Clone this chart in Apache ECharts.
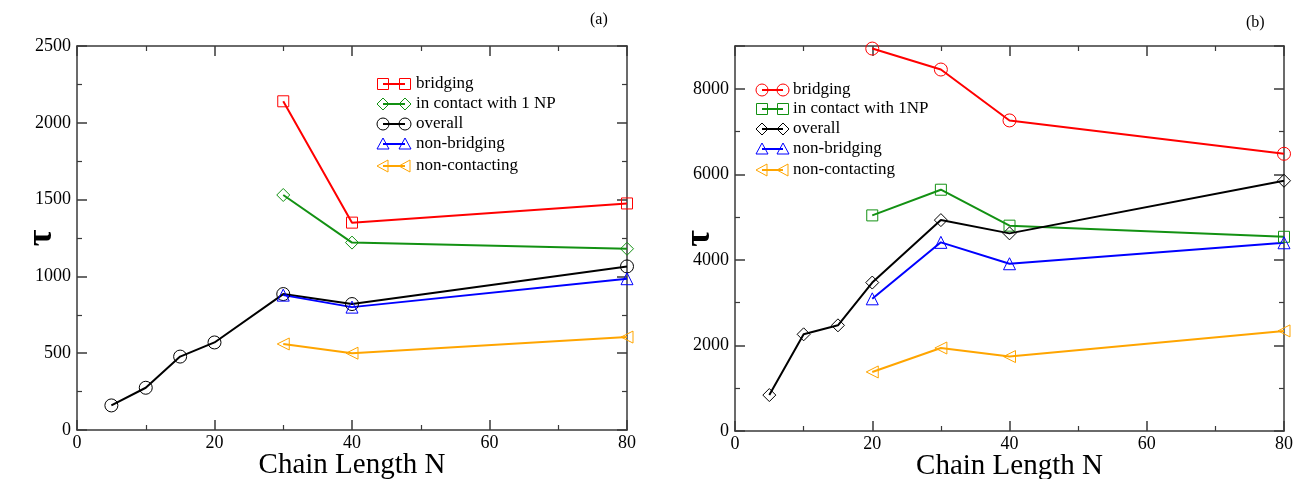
<!DOCTYPE html>
<html>
<head>
<meta charset="utf-8">
<script src="https://cdn.jsdelivr.net/npm/echarts@6/dist/echarts.min.js"></script>
<style>
  html, body { margin: 0; padding: 0; background: #fff; }
  #chart { width: 1294px; height: 479px; }
</style>
</head>
<body>
<div id="chart"></div>
<script>
// ---- Panel (a) ----
const nBridgingA = [30, 40, 80];
const tauBridgingA = [2140, 1350, 1475];
const nContactA = [30, 40, 80];
const tauContactA = [1530, 1220, 1180];
const nOverallA = [5, 10, 15, 20, 30, 40, 80];
const tauOverallA = [160, 275, 478, 570, 885, 820, 1065];
const nNonBridgingA = [30, 40, 80];
const tauNonBridgingA = [878, 800, 985];
const nNonContactA = [30, 40, 80];
const tauNonContactA = [560, 500, 605];

// ---- Panel (b) ----
const nBridgingB = [20, 30, 40, 80];
const tauBridgingB = [8940, 8450, 7260, 6480];
const nContactB = [20, 30, 40, 80];
const tauContactB = [5040, 5640, 4800, 4540];
const nOverallB = [5, 10, 15, 20, 30, 40, 80];
const tauOverallB = [840, 2260, 2470, 3470, 4930, 4620, 5850];
const nNonBridgingB = [20, 30, 40, 80];
const tauNonBridgingB = [3090, 4410, 3910, 4400];
const nNonContactB = [20, 30, 40, 80];
const tauNonContactB = [1380, 1940, 1740, 2340];

// ---- Axis ticks ----
const xTicks = { min: 0, max: 80, interval: 20 };
const yTicksA = { min: 0, max: 2500, interval: 500, showMax: true };
const yTicksB = { min: 0, max: 9000, interval: 2000, showMax: false };

const legendNamesA = ['bridging', 'in contact with 1 NP', 'overall', 'non-bridging', 'non-contacting'];
const legendNamesB = ['bridging', 'in contact with 1NP', 'overall', 'non-bridging', 'non-contacting'];

const RED = '#ff0000', GREEN = '#139113', BLACK = '#000000', BLUE = '#0000ff', ORANGE = '#ffa500';
const FONT = '"Liberation Serif", "DejaVu Serif", serif';
const AXIS_COLOR = '#3a3a3a';

const LEFT_TRI = 'path://M0,6 L11,0 L11,12 Z';

const zip = (xs, ys) => xs.map((x, i) => [x, ys[i]]);
const plain = v => String(v);

function lineSeries(name, grid, xs, ys, color, symbol, size) {
  return {
    type: 'line', name,
    xAxisIndex: grid * 2, yAxisIndex: grid * 2,
    data: zip(xs, ys),
    symbol, symbolSize: size,
    showAllSymbol: true,
    lineStyle: { color, width: 2 },
    itemStyle: { color: 'rgba(0,0,0,0)', borderColor: color, borderWidth: 1 },
    emphasis: { disabled: true },
    silent: true,
    z: 3
  };
}

function xAxes(grid) {
  const base = {
    type: 'value', gridIndex: grid,
    min: xTicks.min, max: xTicks.max, interval: xTicks.interval,
    splitLine: { show: false },
    axisLine: { show: true, onZero: false, lineStyle: { color: AXIS_COLOR, width: 1.5 } },
    axisTick: { show: true, inside: true, length: 10, lineStyle: { color: AXIS_COLOR, width: 1.5 } },
    minorTick: { show: true, splitNumber: 2, length: 5, lineStyle: { color: AXIS_COLOR, width: 1.2 } },
    minorSplitLine: { show: false }
  };
  return [
    Object.assign({}, base, {
      position: 'bottom',
      axisLabel: { color: '#000', fontFamily: FONT, fontSize: 18, margin: 4, formatter: plain },
      name: 'Chain Length N', nameLocation: 'middle', nameGap: 21, nameMoveOverlap: false,
      nameTextStyle: { color: '#000', fontFamily: FONT, fontSize: 29 }
    }),
    Object.assign({}, base, { position: 'top', axisLabel: { show: false } })
  ];
}

function yAxes(grid, t) {
  const base = {
    type: 'value', gridIndex: grid,
    min: t.min, max: t.max, interval: t.interval,
    splitLine: { show: false },
    axisLine: { show: true, onZero: false, lineStyle: { color: AXIS_COLOR, width: 1.5 } },
    axisTick: { show: true, inside: true, length: 10, lineStyle: { color: AXIS_COLOR, width: 1.5 } },
    minorTick: { show: true, splitNumber: 2, length: 5, lineStyle: { color: AXIS_COLOR, width: 1.2 } },
    minorSplitLine: { show: false }
  };
  return [
    Object.assign({}, base, {
      position: 'left',
      axisLabel: { color: '#000', fontFamily: FONT, fontSize: 18, margin: 6,
        showMaxLabel: t.showMax, formatter: plain },
      name: 'τ', nameLocation: 'middle', nameGap: 17, nameRotate: 90, nameMoveOverlap: false,
      nameTextStyle: { color: '#000', fontFamily: FONT, fontSize: 36, fontWeight: 'bold' }
    }),
    Object.assign({}, base, { position: 'right', axisLabel: { show: false } })
  ];
}

// hollow legend marker shapes, centred at (0,0)
function marker(kind, color, x, y) {
  const style = { fill: 'none', stroke: color, lineWidth: 1 };
  switch (kind) {
    case 'rect': return { type: 'rect', x, y, shape: { x: -5.5, y: -5.5, width: 11, height: 11 }, style };
    case 'circle': return { type: 'circle', x, y, shape: { cx: 0, cy: 0, r: 6 }, style };
    case 'diamond': return { type: 'polygon', x, y, shape: { points: [[0, -6], [6, 0], [0, 6], [-6, 0]] }, style };
    case 'triangle': return { type: 'polygon', x, y, shape: { points: [[0, -6], [6, 5], [-6, 5]] }, style };
    case 'left': return { type: 'polygon', x, y, shape: { points: [[-6, 0], [5, -6], [5, 6]] }, style };
  }
}

function legendBlock(names, kinds, colors, x0, x1, textX, rows) {
  const children = [];
  names.forEach((name, i) => {
    const y = rows[i];
    children.push({ type: 'line', shape: { x1: x0, y1: y, x2: x1, y2: y }, style: { stroke: colors[i], lineWidth: 2 } });
    children.push(marker(kinds[i], colors[i], x0, y));
    children.push(marker(kinds[i], colors[i], x1, y));
    children.push({ type: 'text', x: textX, y, style: { text: name, fill: '#000', font: '17px ' + FONT, textVerticalAlign: 'middle' } });
  });
  return children;
}

const colors = [RED, GREEN, BLACK, BLUE, ORANGE];
const kindsA = ['rect', 'diamond', 'circle', 'triangle', 'left'];
const kindsB = ['circle', 'rect', 'diamond', 'triangle', 'left'];

const chart = echarts.init(document.getElementById('chart'), null, { renderer: 'canvas' });
chart.setOption({
  animation: false,
  backgroundColor: '#fff',
  grid: [
    { left: 77, right: 667, top: 46, bottom: 49, containLabel: false, outerBoundsMode: 'none' },
    { left: 735, right: 10, top: 46, bottom: 48, containLabel: false, outerBoundsMode: 'none' }
  ],
  xAxis: [...xAxes(0), ...xAxes(1)],
  yAxis: [...yAxes(0, yTicksA), ...yAxes(1, yTicksB)],
  series: [
    lineSeries('bridging', 0, nBridgingA, tauBridgingA, RED, 'rect', 11),
    lineSeries('in contact with 1 NP', 0, nContactA, tauContactA, GREEN, 'diamond', 13),
    lineSeries('overall', 0, nOverallA, tauOverallA, BLACK, 'circle', 13),
    lineSeries('non-bridging', 0, nNonBridgingA, tauNonBridgingA, BLUE, 'triangle', 12),
    lineSeries('non-contacting', 0, nNonContactA, tauNonContactA, ORANGE, LEFT_TRI, 12),
    lineSeries('bridging', 1, nBridgingB, tauBridgingB, RED, 'circle', 13),
    lineSeries('in contact with 1NP', 1, nContactB, tauContactB, GREEN, 'rect', 11),
    lineSeries('overall', 1, nOverallB, tauOverallB, BLACK, 'diamond', 13),
    lineSeries('non-bridging', 1, nNonBridgingB, tauNonBridgingB, BLUE, 'triangle', 12),
    lineSeries('non-contacting', 1, nNonContactB, tauNonContactB, ORANGE, LEFT_TRI, 12)
  ],
  graphic: [
    { type: 'text', left: 590, top: 12, style: { text: '(a)', fill: '#000', font: '16px ' + FONT } },
    { type: 'text', left: 1246, top: 15, style: { text: '(b)', fill: '#000', font: '16px ' + FONT } },
    { type: 'group', children: legendBlock(legendNamesA, kindsA, colors, 383, 405, 416, [84, 104, 124, 144, 166]) },
    { type: 'group', children: legendBlock(legendNamesB, kindsB, colors, 762, 783, 793, [90, 109, 129, 149, 170]) }
  ]
});
</script>
</body>
</html>
